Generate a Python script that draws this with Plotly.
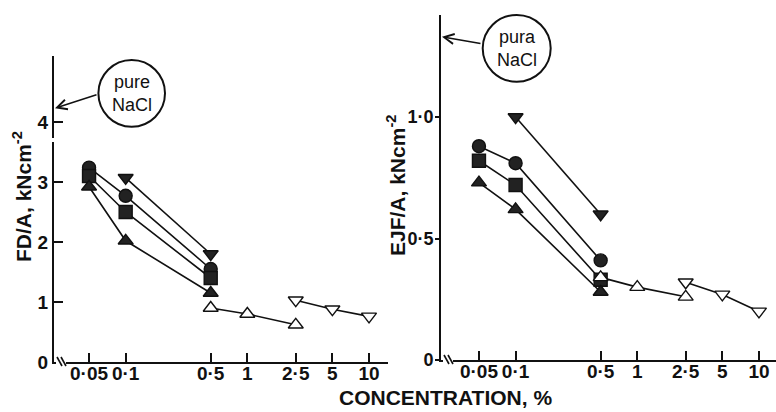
import numpy as np
import plotly.graph_objects as go

W, H = 776, 412

conc_tick_vals = [0.05, 0.1, 0.5, 1, 2.5, 5, 10]
conc_tick_text = ["0·05", "0·1", "0·5", "1", "2·5", "5", "10"]

# Left panel: FD/A
fd_circle_x = [0.05, 0.1, 0.5]
fd_circle_y = [3.24, 2.77, 1.55]
fd_square_x = [0.05, 0.1, 0.5]
fd_square_y = [3.10, 2.50, 1.40]
fd_tri_x = [0.05, 0.1, 0.5]
fd_tri_y = [2.92, 2.02, 1.15]
fd_tridown_x = [0.1, 0.5]
fd_tridown_y = [3.07, 1.80]
fd_open_tri_x = [0.5, 1, 2.5]
fd_open_tri_y = [0.90, 0.80, 0.62]
fd_open_tridown_x = [2.5, 5, 10]
fd_open_tridown_y = [1.03, 0.88, 0.76]

# Right panel: EJF/A
ejf_circle_x = [0.05, 0.1, 0.5]
ejf_circle_y = [0.88, 0.81, 0.41]
ejf_square_x = [0.05, 0.1, 0.5]
ejf_square_y = [0.82, 0.72, 0.33]
ejf_tri_x = [0.05, 0.1, 0.5]
ejf_tri_y = [0.73, 0.62, 0.28]
ejf_tridown_x = [0.1, 0.5]
ejf_tridown_y = [1.00, 0.60]
ejf_open_tri_x = [0.5, 1, 2.5]
ejf_open_tri_y = [0.34, 0.30, 0.26]
ejf_open_tridown_x = [2.5, 5, 10]
ejf_open_tridown_y = [0.32, 0.27, 0.20]

fd_pure_nacl = 4.23
ejf_pure_nacl = 1.33


def px(x):
    return x / W


def py(y):
    return 1 - y / H


fig = go.Figure()

ink = "#111111"

for (xa, ya, data) in [
    ("x", "y", [
        (fd_circle_x, fd_circle_y, "circle"),
        (fd_square_x, fd_square_y, "square"),
        (fd_tri_x, fd_tri_y, "triangle-up"),
        (fd_tridown_x, fd_tridown_y, "triangle-down"),
        (fd_open_tri_x, fd_open_tri_y, "triangle-up-open"),
        (fd_open_tridown_x, fd_open_tridown_y, "triangle-down-open"),
    ]),
    ("x2", "y2", [
        (ejf_circle_x, ejf_circle_y, "circle"),
        (ejf_square_x, ejf_square_y, "square"),
        (ejf_tri_x, ejf_tri_y, "triangle-up"),
        (ejf_tridown_x, ejf_tridown_y, "triangle-down"),
        (ejf_open_tri_x, ejf_open_tri_y, "triangle-up-open"),
        (ejf_open_tridown_x, ejf_open_tridown_y, "triangle-down-open"),
    ]),
]:
    for xs, ys, sym in data:
        s = sym.replace("-open", "")
        fig.add_trace(go.Scatter(
            x=xs, y=ys, mode="lines+markers", xaxis=xa, yaxis=ya,
            line=dict(color=ink, width=1.6),
            marker=dict(symbol=s, size=13,
                        color="white" if "open" in sym else "#222222",
                        line=dict(color=ink, width=1.4)),
            showlegend=False))

tickfont = dict(family="Liberation Sans", size=19, color=ink, weight="bold")

xcommon = dict(type="log", tickvals=conc_tick_vals, ticktext=conc_tick_text,
               ticks="inside", ticklen=9, tickwidth=2, tickcolor=ink,
               showline=True, linecolor=ink, linewidth=2, showgrid=False,
               zeroline=False, tickfont=tickfont, ticklabelstandoff=-7)

fig.update_layout(
    template="none",
    width=W, height=H, margin=dict(l=0, r=0, t=0, b=0),
    paper_bgcolor="white", plot_bgcolor="white",
    font=dict(family="Liberation Sans", color=ink),
    xaxis=dict(xcommon, domain=[px(54), px(388)], range=[-1.589, 1.156], anchor="y"),
    yaxis=dict(domain=[py(362), py(56)], range=[0, 5.1], tickvals=[0, 1, 2, 3, 4],
               ticktext=["0", "1", "2", "3", "4"], ticks="inside", ticklen=9, tickwidth=2,
               tickcolor=ink, showline=True, linecolor=ink, linewidth=2, showgrid=False,
               zeroline=False, tickfont=tickfont, anchor="x"),
    xaxis2=dict(xcommon, domain=[px(441), 1.0], range=[-1.613, 1.140], anchor="y2"),
    yaxis2=dict(domain=[py(360), py(15)], range=[0, 1.42], tickvals=[0, 0.5, 1.0],
                ticktext=["0", "0·5", "1·0"], ticks="outside", ticklen=4, tickwidth=2,
                tickcolor=ink, showline=True, linecolor=ink, linewidth=2, showgrid=False,
                zeroline=False, tickfont=dict(tickfont, size=18), anchor="x2",
                ticklabelstandoff=-2),
)

textfont = dict(family="Liberation Sans", size=21, color=ink, weight="bold")
ctr = dict(xanchor="center", yanchor="middle", showarrow=False)

annotations = [
    dict(ctr, text="FD/A, kNcm<sup>-2</sup>", xref="paper", yref="paper", x=px(22), y=py(197),
         textangle=-90, font=textfont),
    dict(ctr, text="EJF/A, kNcm<sup>-2</sup>", xref="paper", yref="paper", x=px(396), y=py(186),
         textangle=-90, font=textfont),
    dict(ctr, text="CONCENTRATION, %", xref="paper", yref="paper", x=px(446), y=py(397),
         font=dict(family="Liberation Sans", size=21, color=ink, weight="bold")),
    dict(ctr, text="pure<br>NaCl", xref="paper", yref="paper", x=px(131.7), y=py(93.3),
         font=dict(family="Liberation Sans", size=18, color=ink)),
    dict(ctr, text="pura<br>NaCl", xref="paper", yref="paper", x=px(516.7), y=py(48.3),
         font=dict(family="Liberation Sans", size=18, color=ink)),
    dict(text="", xref="paper", yref="y", x=px(55), y=fd_pure_nacl, ax=43, ay=-14,
         showarrow=True, arrowhead=5, arrowsize=1.3, arrowwidth=1.5, arrowcolor=ink),
    dict(text="", xref="paper", yref="y2", x=px(442), y=ejf_pure_nacl, ax=40, ay=7,
         showarrow=True, arrowhead=5, arrowsize=1.3, arrowwidth=1.5, arrowcolor=ink),
]
fig.update_layout(annotations=annotations)

shapes = [
    dict(type="circle", xref="paper", yref="paper", x0=px(98.4), x1=px(165), y0=py(126.7), y1=py(60),
         line=dict(color=ink, width=2)),
    dict(type="circle", xref="paper", yref="paper", x0=px(482.7), x1=px(550.7), y0=py(81.7), y1=py(15),
         line=dict(color=ink, width=2)),
]
# axis break marks near origins
for ox, oy in [(54, 362), (441, 360)]:
    shapes.append(dict(type="rect", xref="paper", yref="paper", x0=px(ox + 2), x1=px(ox + 12),
                       y0=py(oy + 2), y1=py(oy - 2), fillcolor="white", line=dict(width=0), layer="above"))
    for dx in (3, 7):
        shapes.append(dict(type="line", xref="paper", yref="paper", x0=px(ox + dx), y0=py(oy - 5),
                           x1=px(ox + dx + 5), y1=py(oy + 4), line=dict(color=ink, width=1.6)))
# gap in left y-axis above the 4 tick
shapes.append(dict(type="rect", xref="paper", yref="paper", x0=px(51), x1=px(57), y0=py(142), y1=py(138),
                   fillcolor="white", line=dict(width=0), layer="above"))
fig.update_layout(shapes=shapes)

fig.write_html("out.html")
